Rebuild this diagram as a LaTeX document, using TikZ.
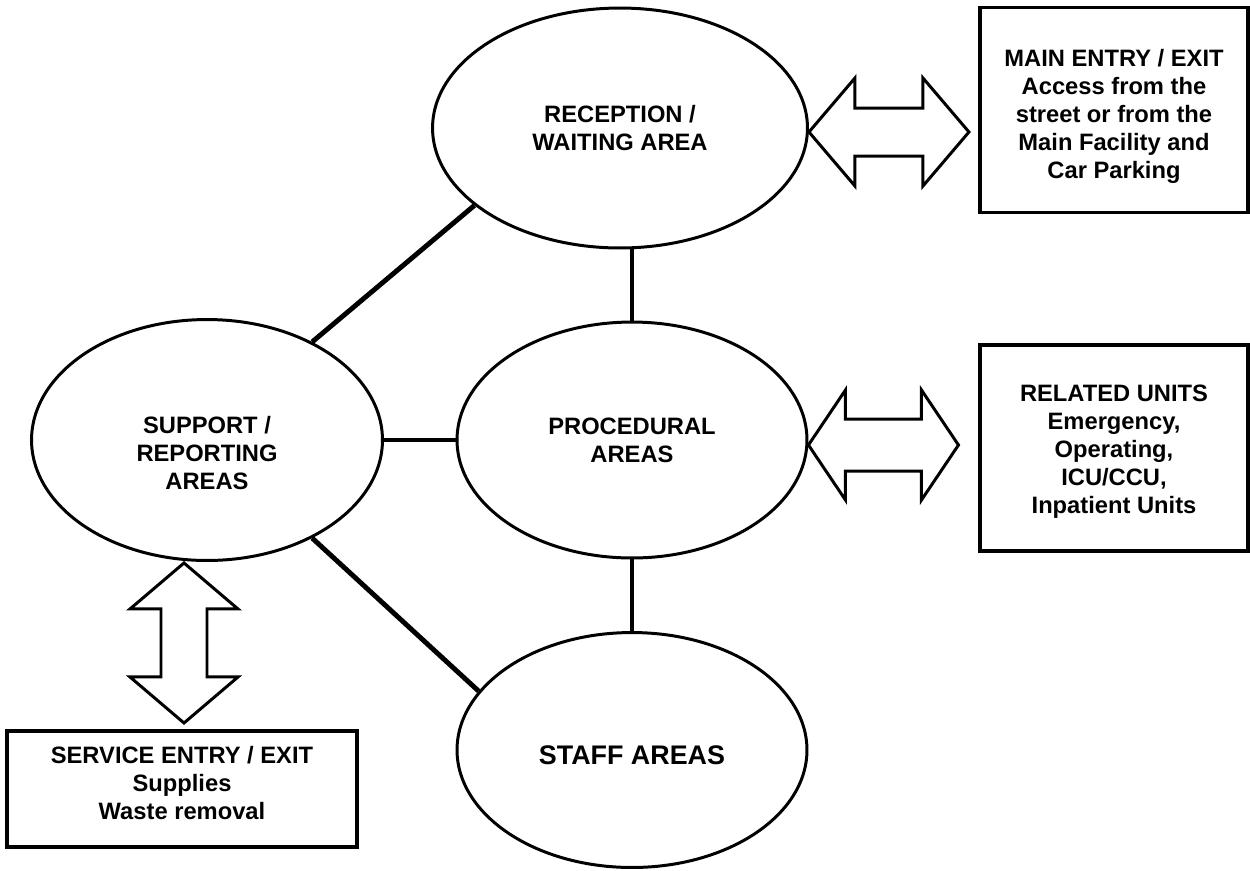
\documentclass[tikz,border=0pt]{standalone}
\usepackage{fontspec}
\setmainfont{Liberation Sans}
\usetikzlibrary{shapes.geometric}
\usetikzlibrary{calc}
\newcommand{\diagfont}{\fontsize{13.5}{16}\selectfont\bfseries}
\tikzset{blockarrow/.style={draw,fill=white,line width=1.7pt,line join=miter},
  pics/dblarrow/.style n args={4}{code={\draw[blockarrow] (-#1,0) -- ({-#1+#2},#3) -- ({-#1+#2},#4) -- ({#1-#2},#4) -- ({#1-#2},#3) -- (#1,0) -- ({#1-#2},-#3) -- ({#1-#2},-#4) -- ({-#1+#2},-#4) -- ({-#1+#2},-#3) -- cycle;}}}

\begin{document}
\begin{tikzpicture}[x=0.02cm,y=-0.02cm,zone/.style={ellipse,draw,line width=1.7pt,align=center,inner sep=0pt,font=\diagfont},infobox/.style={draw,line width=2pt,inner sep=0pt},boxtext/.style={font=\diagfont,align=center},link/.style={line width=2.8pt}]
  \useasboundingbox (0,0) rectangle (1250,870);

  %areas
  \node[zone,minimum width=7.5cm,minimum height=4.8cm] (recep) at (620,128) {RECEPTION /\\WAITING AREA};
  \node[zone,minimum width=7cm,minimum height=4.72cm] (proc) at (632,440) {PROCEDURAL\\AREAS};
  \node[zone,minimum width=7.02cm,minimum height=4.82cm,label={[boxtext,yshift=-0.26cm]center:SUPPORT /\\REPORTING\\AREAS}] (support) at (207,440) {};
  \node[zone,minimum width=7cm,minimum height=4.7cm,label={[font=\fontsize{15.3}{18}\selectfont\bfseries,yshift=-0.11cm]center:STAFF AREAS}] (staff) at (632,750) {};

  %links
  \draw[link] (recep.208) -- (support.43);
  \draw[link] (proc.north |- recep.south) -- (proc.north);
  \draw[link] (support.east) -- (proc.west);
  \draw[link] (proc.south) -- (staff.north);
  \draw[link] (support.-43) -- (staff.159);

  %entries
  \node[infobox,minimum width=5.36cm,minimum height=4.1cm,label={[boxtext,yshift=-0.13cm]center:MAIN ENTRY / EXIT\\Access from the\\street or from the\\Main Facility and\\Car Parking}] (mainbox) at (1114,110) {};
  \node[infobox,minimum width=5.36cm,minimum height=4.12cm,label={[boxtext,yshift=-0.07cm]center:RELATED UNITS\\Emergency,\\Operating,\\ICU/CCU,\\Inpatient Units}] (relbox) at (1114,448) {};
  \node[infobox,minimum width=7cm,minimum height=2.32cm,label={[boxtext,yshift=0.12cm]center:SERVICE ENTRY / EXIT\\Supplies\\Waste removal}] (servbox) at (182,789) {};

  %arrows
  \pic at ($(recep.east)+(80,4)$) {dblarrow={80}{46}{54}{24}};
  \pic at ($(proc.east)+(75,5)$) {dblarrow={75}{37}{55}{26}};
  \pic[rotate=90] at ($(support.south)+(-23,81)$) {dblarrow={80}{46}{54}{23}};
\end{tikzpicture}
\end{document}
